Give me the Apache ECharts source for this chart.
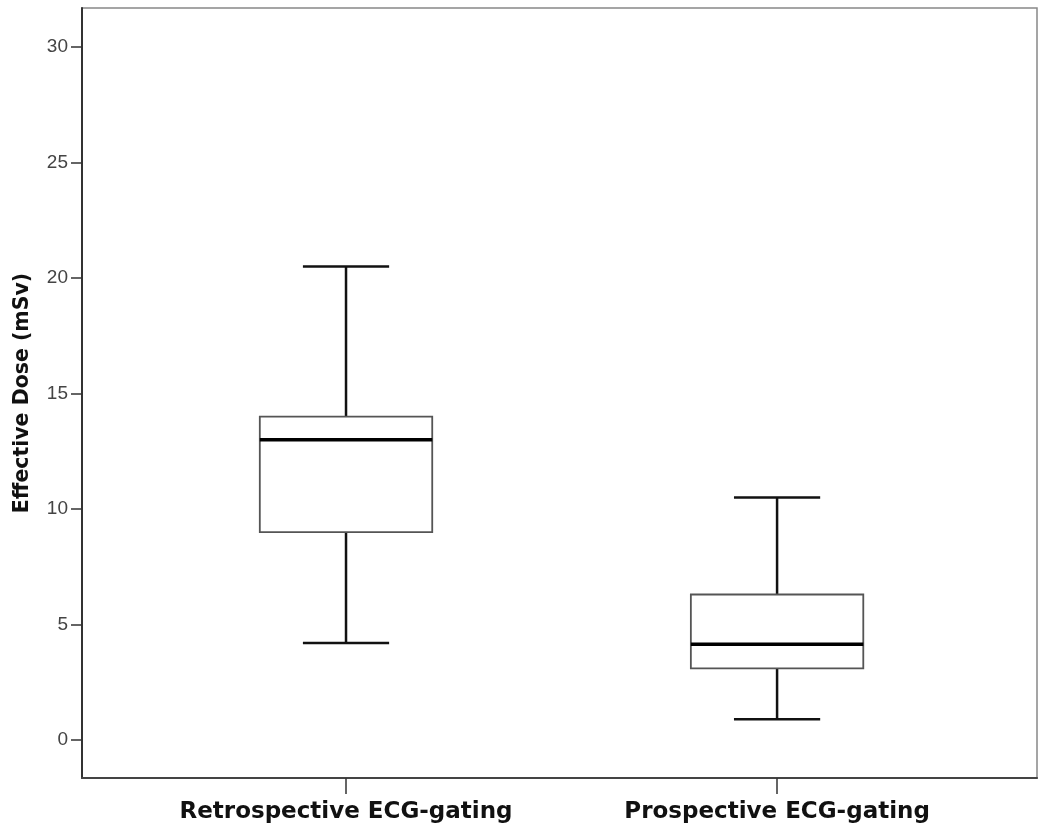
<!DOCTYPE html>
<html>
<head>
<meta charset="utf-8">
<script src="https://cdn.jsdelivr.net/npm/echarts@6/dist/echarts.min.js"></script>
<style>
  html, body { margin: 0; padding: 0; background: #fff; }
  #chart { width: 1038px; height: 832px; }
</style>
</head>
<body>
<div id="chart"></div>
<script>
// box plot data (mSv)
var categories = ['Retrospective ECG-gating', 'Prospective ECG-gating'];
var whiskerLow = [4.2, 0.9];
var q1 = [9.0, 3.1];
var median = [13.0, 4.15];
var q3 = [14.0, 6.3];
var whiskerHigh = [20.5, 10.5];
var yTicks = [0, 5, 10, 15, 20, 25, 30];
var xTicks = [0, 1];

var labelFont = 'Arial, "Liberation Sans", sans-serif';
var titleFont = '"DejaVu Sans", Verdana, sans-serif';

var boxData = categories.map(function (c, i) {
  return [i, whiskerLow[i], q1[i], median[i], q3[i], whiskerHigh[i]];
});

function renderBox(params, api) {
  var idx = api.value(0);
  var unit = api.size([1, 0])[0]; // distance between the two groups
  var boxHalf = unit * 0.2;
  var capHalf = unit * 0.1;
  var pLow = api.coord([idx, api.value(1)]);
  var pQ1 = api.coord([idx, api.value(2)]);
  var pMed = api.coord([idx, api.value(3)]);
  var pQ3 = api.coord([idx, api.value(4)]);
  var pHigh = api.coord([idx, api.value(5)]);
  var x = pLow[0];
  var whisker = { stroke: '#111', lineWidth: 2.5 };
  return {
    type: 'group',
    children: [
      { type: 'line', shape: { x1: x, y1: pHigh[1], x2: x, y2: pQ3[1] }, style: whisker },
      { type: 'line', shape: { x1: x, y1: pQ1[1], x2: x, y2: pLow[1] }, style: whisker },
      { type: 'line', shape: { x1: x - capHalf, y1: pHigh[1], x2: x + capHalf, y2: pHigh[1] }, style: whisker },
      { type: 'line', shape: { x1: x - capHalf, y1: pLow[1], x2: x + capHalf, y2: pLow[1] }, style: whisker },
      {
        type: 'rect',
        shape: { x: x - boxHalf, y: pQ3[1], width: boxHalf * 2, height: pQ1[1] - pQ3[1] },
        style: { fill: '#fff', stroke: '#555', lineWidth: 1.8 }
      },
      {
        type: 'line',
        shape: { x1: x - boxHalf, y1: pMed[1], x2: x + boxHalf, y2: pMed[1] },
        style: { stroke: '#000', lineWidth: 3.5 }
      }
    ]
  };
}

var chart = echarts.init(document.getElementById('chart'));
chart.setOption({
  backgroundColor: '#fff',
  animation: false,
  grid: {
    left: 82, right: 1, top: 8, bottom: 54,
    outerBoundsMode: 'none',
    show: true, borderColor: '#888', borderWidth: 1.5
  },
  xAxis: {
    type: 'value', min: -0.6125, max: 1.603,
    axisLine: { show: true, onZero: false, lineStyle: { color: '#444', width: 2 } },
    axisTick: { show: true, customValues: xTicks, length: 16, lineStyle: { color: '#333', width: 1.5 } },
    axisLabel: {
      customValues: xTicks, margin: 23,
      fontFamily: titleFont, fontSize: 23, fontWeight: 'bold', color: '#111',
      formatter: function (v) { return categories[Math.round(v)]; }
    },
    splitLine: { show: false }
  },
  yAxis: {
    type: 'value', min: -1.645, max: 31.69,
    name: 'Effective Dose (mSv)', nameLocation: 'middle', nameGap: 49,
    nameTextStyle: { fontFamily: titleFont, fontSize: 20.5, fontWeight: 'bold', color: '#111' },
    axisLine: { show: true, onZero: false, lineStyle: { color: '#333', width: 2 } },
    axisTick: { show: true, customValues: yTicks, length: 11, lineStyle: { color: '#333', width: 1.5 } },
    axisLabel: { customValues: yTicks, margin: 14, fontFamily: labelFont, fontSize: 19, color: '#444' },
    splitLine: { show: false }
  },
  series: [
    {
      type: 'custom',
      renderItem: renderBox,
      encode: { x: 0, y: [1, 2, 3, 4, 5] },
      data: boxData
    }
  ]
});
</script>
</body>
</html>
